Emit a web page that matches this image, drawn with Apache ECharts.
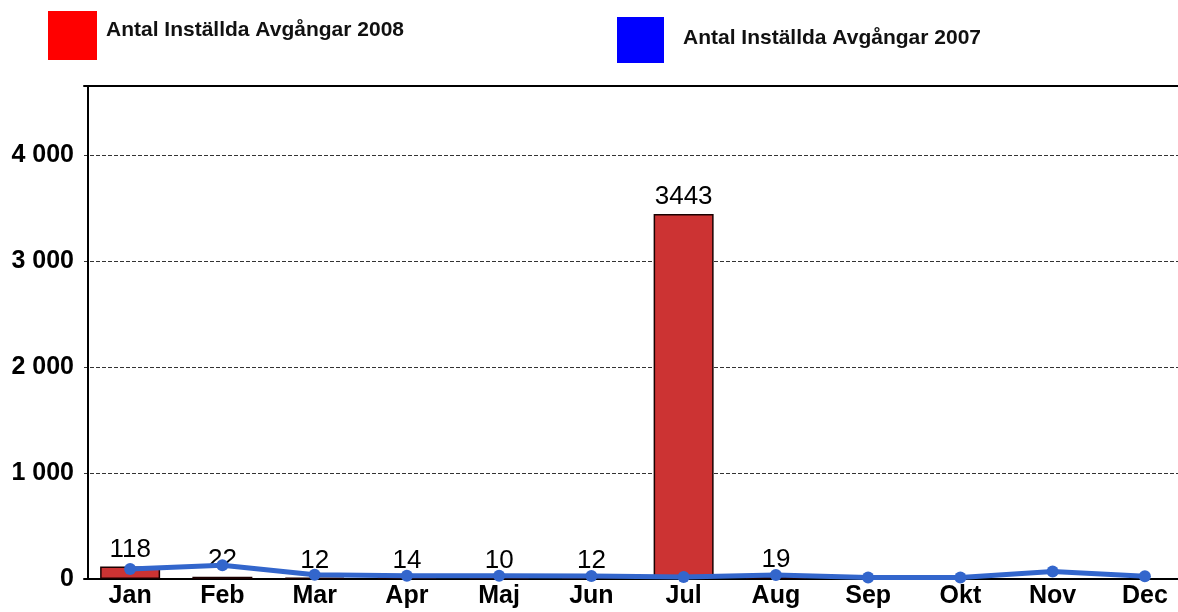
<!DOCTYPE html>
<html>
<head>
<meta charset="utf-8">
<title>Antal Inställda Avgångar</title>
<script src="https://cdn.jsdelivr.net/npm/echarts@6/dist/echarts.min.js"></script>
<style>
  html, body { margin: 0; padding: 0; background: #fff; overflow: hidden; }
  /* plottytan fortsätter förbi högerkanten, som i originalet */
  #chart { width: 1191px; height: 612px; }
</style>
</head>
<body>
<div id="chart"></div>
<script>
  // månader och värden
  var months = ["Jan", "Feb", "Mar", "Apr", "Maj", "Jun", "Jul", "Aug", "Sep", "Okt", "Nov", "Dec"];
  var cancelled2008 = [118, 22, 12, 14, 10, 12, 3443, 19, null, null, null, null];
  var cancelled2007 = [95, 130, 40, 30, 30, 28, 18, 38, 15, 15, 70, 25];
  var yTicks = [0, 1000, 2000, 3000, 4000];

  var FONT = "'Liberation Sans', Arial, sans-serif";

  function formatTick(value) {
    if (yTicks.indexOf(value) < 0) return "";
    return String(value).replace(/\B(?=(\d{3})+(?!\d))/g, " ");
  }

  function legendText(padLeft, lift) {
    return {
      rich: {
        t: {
          color: "#111",
          fontSize: 21,
          fontWeight: "bold",
          fontFamily: FONT,
          padding: [0, 0, lift, padLeft]
        }
      }
    };
  }

  var chart = echarts.init(document.getElementById("chart"), null, { renderer: "canvas" });

  chart.setOption({
    backgroundColor: "#ffffff",
    animation: false,
    textStyle: { fontFamily: FONT },
    legend: [
      {
        left: 43,
        top: 6,
        icon: "rect",
        itemWidth: 49,
        itemHeight: 49,
        selectedMode: false,
        formatter: "{t|{name}}",
        data: [{ name: "Antal Inställda Avgångar 2008", itemStyle: { color: "#ff0000", borderWidth: 0 } }],
        textStyle: legendText(4, 10)
      },
      {
        left: 612,
        top: 12,
        icon: "rect",
        itemWidth: 47,
        itemHeight: 46,
        selectedMode: false,
        formatter: "{t|{name}}",
        data: [{ name: "Antal Inställda Avgångar 2007", itemStyle: { color: "#0000ff", borderWidth: 0 } }],
        textStyle: legendText(14, 4)
      }
    ],
    grid: { left: 84, right: 0, top: 86, bottom: 33 },
    xAxis: [
      {
        type: "category",
        data: months,
        axisLine: { lineStyle: { color: "#000", width: 2 } },
        axisTick: { show: false },
        axisLabel: { color: "#000", fontSize: 25, fontWeight: "bold", fontFamily: FONT, margin: 5 }
      },
      {
        type: "category",
        data: months,
        position: "top",
        axisLine: { lineStyle: { color: "#000", width: 2 } },
        axisTick: { show: false },
        axisLabel: { show: false }
      }
    ],
    yAxis: {
      type: "value",
      min: 0,
      max: 4650,
      interval: 1000,
      offset: -4,
      axisLine: { show: true, lineStyle: { color: "#000", width: 2 } },
      axisTick: { show: false },
      splitLine: { lineStyle: { color: "#333", type: [4, 2], width: 1 } },
      axisLabel: {
        color: "#000",
        fontSize: 25,
        fontWeight: "bold",
        fontFamily: FONT,
        margin: 14,
        formatter: formatTick
      }
    },
    series: [
      {
        name: "Antal Inställda Avgångar 2008",
        type: "bar",
        data: cancelled2008,
        barWidth: 60,
        itemStyle: { color: "#cc3333", borderColor: "#1a0000", borderWidth: 1.5 },
        label: {
          show: true,
          position: "top",
          distance: 4,
          color: "#000",
          fontSize: 26,
          fontFamily: FONT
        },
        z: 2
      },
      {
        name: "Antal Inställda Avgångar 2007",
        type: "line",
        data: cancelled2007,
        symbol: "circle",
        symbolSize: 12,
        lineStyle: { color: "#3366cc", width: 5 },
        itemStyle: { color: "#3366cc" },
        z: 3
      }
    ]
  });
</script>
</body>
</html>
